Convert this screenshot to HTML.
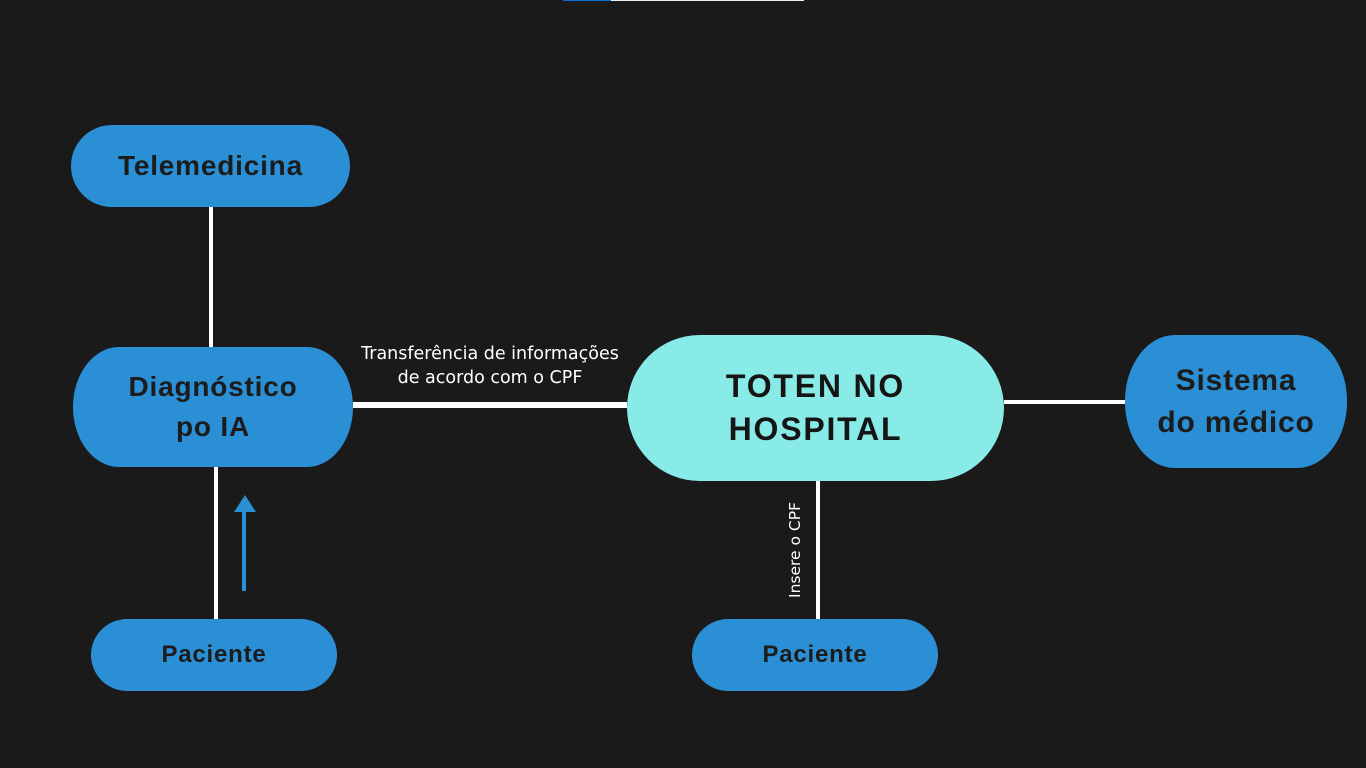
<!DOCTYPE html>
<html><head><meta charset="utf-8"><style>
body{margin:0;width:1366px;height:768px;background:#1a1a1a;position:relative;overflow:hidden;font-family:"Liberation Sans",sans-serif}
.n{position:absolute;background:#2b8fd6;color:#1c1c1c;font-weight:bold;display:flex;align-items:center;justify-content:center;text-align:center;letter-spacing:0.8px}
.l{position:absolute;background:#fff}
.t{position:absolute;color:#fff;font-size:17.5px;text-align:center;line-height:24px;font-family:"DejaVu Sans",sans-serif}
</style></head><body>
<div style="position:absolute;left:563px;top:0;width:48px;height:1px;background:#0a6fd6"></div>
<div style="position:absolute;left:611px;top:0;width:193px;height:1px;background:#eee"></div>

<div class="l" style="left:209px;top:207px;width:4px;height:140px"></div>
<div class="l" style="left:214px;top:467px;width:4px;height:152px"></div>
<div class="l" style="left:353px;top:402px;width:274px;height:6px"></div>
<div class="l" style="left:1004px;top:400px;width:121px;height:4px"></div>
<div class="l" style="left:816px;top:481px;width:4px;height:138px"></div>

<div style="position:absolute;left:242px;top:510px;width:4px;height:81px;background:#2b8fd6"></div>
<div style="position:absolute;left:234px;top:495px;width:0;height:0;border-left:11px solid transparent;border-right:11px solid transparent;border-bottom:17px solid #2b8fd6"></div>

<div class="n" style="left:71px;top:125px;width:279px;height:82px;border-radius:41px;font-size:28px">Telemedicina</div>
<div class="n" style="left:73px;top:347px;width:280px;height:120px;border-radius:46px/60px;font-size:28px;line-height:40px">Diagnóstico<br>po IA</div>
<div class="n" style="left:627px;top:335px;width:377px;height:146px;border-radius:73px;background:#88ebe8;font-size:32px;line-height:43px;letter-spacing:1.8px;color:#151515">TOTEN NO<br>HOSPITAL</div>
<div class="n" style="left:1125px;top:335px;width:222px;height:133px;border-radius:50px/66px;font-size:30px;line-height:42px">Sistema<br>do médico</div>
<div class="n" style="left:91px;top:619px;width:246px;height:72px;border-radius:36px;font-size:24px">Paciente</div>
<div class="n" style="left:692px;top:619px;width:246px;height:72px;border-radius:36px;font-size:24px">Paciente</div>

<div class="t" style="left:330px;top:342px;width:320px">Transferência de informações<br>de acordo com o CPF</div>
<div class="t" style="left:745px;top:538px;width:100px;transform:rotate(-90deg);font-size:15.5px">Insere o CPF</div>
</body></html>
